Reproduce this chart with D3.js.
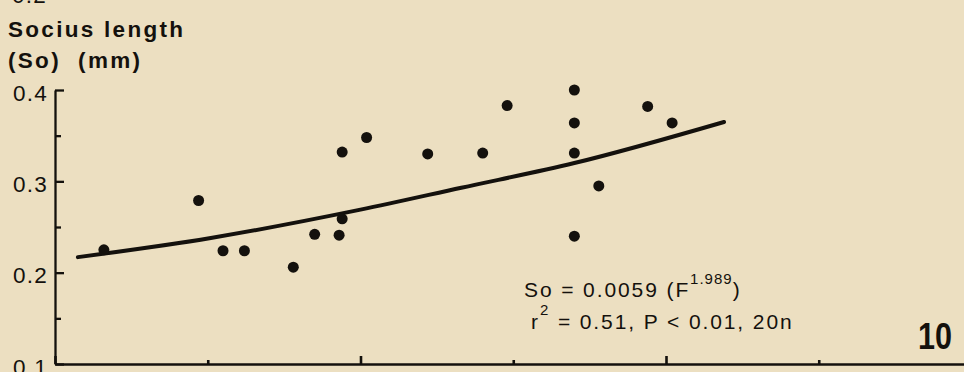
<!DOCTYPE html>
<html>
<head>
<meta charset="utf-8">
<script src="https://cdn.jsdelivr.net/npm/d3@7"></script>
<style>
body { margin: 0; background: #ecdfc1; }
svg { display: block; }
text { font-family: "Liberation Sans", Arial, sans-serif; fill: #14110d; }
</style>
</head>
<body>
<svg id="chart" width="964" height="372"></svg>
<script>
// forewing length F (mm) vs socius length So (mm)
const forewing = [6.16, 6.47, 6.55, 6.62, 6.78, 6.85, 6.93, 6.94, 6.94, 7.02,
                  7.22, 7.40, 7.48, 7.70, 7.70, 7.70, 7.70, 7.78, 7.94, 8.02];
const socius = [0.225, 0.279, 0.224, 0.224, 0.206, 0.242, 0.241, 0.259, 0.332, 0.348,
                0.330, 0.331, 0.383, 0.400, 0.364, 0.331, 0.240, 0.295, 0.382, 0.364];

// fitted curve, points
const fitF = [6.075, 6.51, 7.0, 7.33, 7.70, 8.19];
const fitSo = [0.217, 0.238, 0.269, 0.293, 0.320, 0.365];

const yMajor = [0.1, 0.2, 0.3, 0.4];
const yMinor = [0.15, 0.25, 0.35];
const yTickLabels = ["0.1", "0.2", "0.3", "0.4"];
const xMajor = [6, 7, 8, 9];
const xMinor = [6.5, 7.5, 8.5];

const svg = d3.select("#chart");
const ink = "#14110d";

const x = d3.scaleLinear().domain([6, 9]).range([55, 971.5]);
const y = d3.scaleLinear().domain([0.1, 0.4]).range([364, 90]);

// y axis, ticks point inward
let gy = svg.append("g").attr("transform", "translate(55,0)");
gy.call(d3.axisLeft(y)
    .tickValues(yMajor)
    .tickSize(-9)
    .tickSizeOuter(0)
    .tickPadding(7)
    .tickFormat((d, i) => yTickLabels[i]));
gy.append("g").call(d3.axisLeft(y)
    .tickValues(yMinor)
    .tickSize(-6)
    .tickFormat(""))
    .select(".domain").remove();
gy.selectAll("path, line").attr("stroke", ink).attr("stroke-width", 2.3);
gy.selectAll("text")
    .attr("dy", "0.45em")
    .style("font-size", "22.5px")
    .style("letter-spacing", "1.2px")
    .style("fill", ink);

// x axis, no labels visible (cut off below)
let gx = svg.append("g").attr("transform", "translate(0,364)");
gx.call(d3.axisBottom(x)
    .tickValues(xMajor)
    .tickSize(-8)
    .tickSizeOuter(0)
    .tickFormat(""));
gx.append("g").call(d3.axisBottom(x)
    .tickValues(xMinor)
    .tickSize(-4)
    .tickFormat(""))
    .select(".domain").remove();
gx.selectAll("path, line").attr("stroke", ink).attr("stroke-width", 2.6);

// fitted line
const line = d3.line()
    .x((d, i) => x(d))
    .y((d, i) => y(fitSo[i]))
    .curve(d3.curveMonotoneX);
svg.append("path")
    .datum(fitF)
    .attr("d", line)
    .attr("fill", "none")
    .attr("stroke", ink)
    .attr("stroke-width", 4)
    .attr("stroke-linecap", "round");

// points
svg.append("g")
    .selectAll("circle")
    .data(forewing)
    .enter()
    .append("circle")
    .attr("cx", d => x(d))
    .attr("cy", (d, i) => y(socius[i]))
    .attr("r", 5.5)
    .attr("fill", ink);

// leftover label from the panel above
svg.append("text")
    .attr("x", 12).attr("y", 3)
    .style("font-size", "22.5px")
    .style("letter-spacing", "1.2px")
    .text("0.2");

// axis title
svg.append("text")
    .attr("x", 8).attr("y", 37)
    .attr("textLength", 175).attr("lengthAdjust", "spacing")
    .style("font-size", "22.5px").style("font-weight", "bold")
    .text("Socius length");
svg.append("text")
    .attr("x", 8).attr("y", 68)
    .attr("textLength", 132).attr("lengthAdjust", "spacing")
    .style("font-size", "22.5px").style("font-weight", "bold")
    .style("white-space", "pre")
    .text("(So)  (mm)");

// equation
let eq1 = svg.append("text")
    .attr("x", 524).attr("y", 297)
    .style("font-size", "21px")
    .style("letter-spacing", "1.9px");
eq1.append("tspan").text("So = 0.0059 (F");
eq1.append("tspan").attr("dy", -13).style("font-size", "15px").style("letter-spacing", "1px").text("1.989");
eq1.append("tspan").attr("dy", 13).text(")");

let eq2 = svg.append("text")
    .attr("x", 531).attr("y", 329)
    .style("font-size", "21px")
    .style("letter-spacing", "1.9px");
eq2.append("tspan").text("r");
eq2.append("tspan").attr("dy", -14).style("font-size", "15px").text("2");
eq2.append("tspan").attr("dy", 14).text(" = 0.51, P < 0.01, 20n");

// figure number
svg.append("text")
    .attr("x", 918).attr("y", 349)
    .attr("textLength", 34).attr("lengthAdjust", "spacingAndGlyphs")
    .style("font-size", "37px").style("font-weight", "bold")
    .text("10");
</script>
</body>
</html>
